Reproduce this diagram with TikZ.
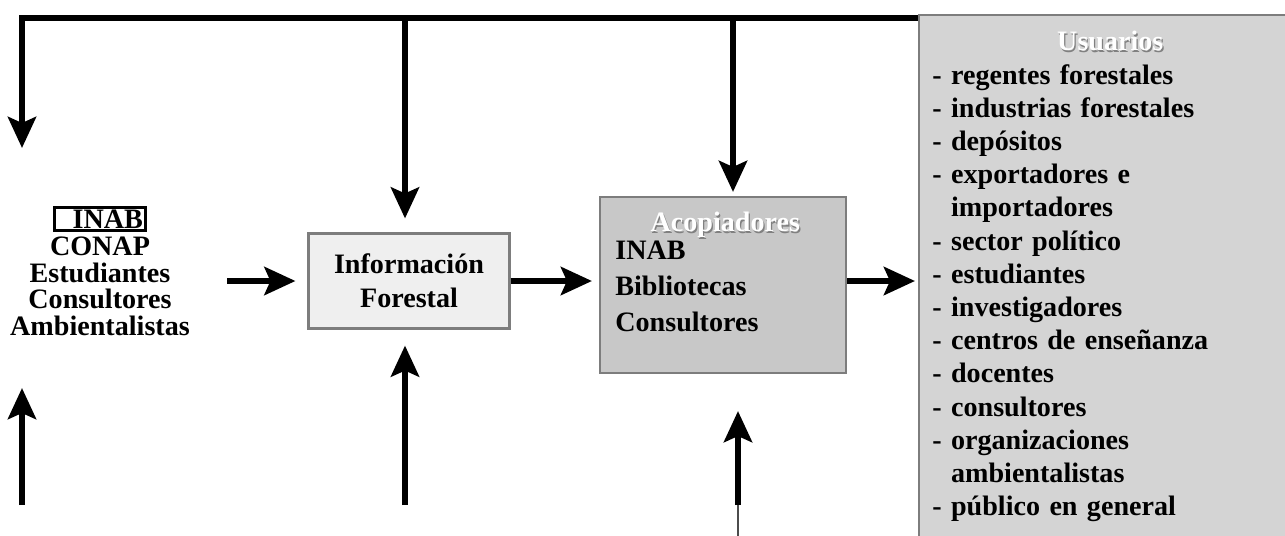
\documentclass[tikz,border=0pt]{standalone}
\usepackage{fontspec}
\setmainfont{Liberation Serif}
\usepackage{xcolor}
\usetikzlibrary{arrows.meta,positioning}

\definecolor{grisclaro}{RGB}{239,239,239}
\definecolor{grismedio}{RGB}{200,200,200}
\definecolor{grisfondo}{RGB}{212,212,212}
\definecolor{grisborde}{RGB}{125,125,125}

% white title with a grey edge
\newcommand{\relieve}[1]{\rlap{\textcolor{black!50}{\kern0.7pt\raisebox{-0.7pt}{#1}}}\textcolor{white}{#1}}

\tikzset{
  caja/.style={draw=grisborde, line width=1.2pt, inner sep=0pt},
  flecha/.style={line width=3.6pt, -{Stealth[length=0.62cm,width=0.56cm,inset=0.12cm]}},
  texto/.style={font=\bfseries\fontsize{16}{15.3}\selectfont, inner sep=0pt}
}

\begin{document}
\begin{tikzpicture}[x=0.02cm,y=-0.02cm]
\useasboundingbox (0,0) rectangle (1285,535);

% Usuarios box, runs off the page to the right and below
\node[caja, fill=grisfondo, anchor=north west, minimum width=8cm, minimum height=11cm] (usuarios) at (918,14) {};
\node[texto, font=\bfseries\fontsize{16}{18.9}\selectfont, anchor=north west, text width=7.12cm, align=left] (lista) at (932,31)
  {\makebox[\linewidth]{\relieve{Usuarios}}\\
   - regentes forestales\\
   - industrias forestales\\
   - depósitos\\
   - exportadores e\\
   \phantom{- }importadores\\
   - sector político\\
   - estudiantes\\
   - investigadores\\
   - centros de enseñanza\\
   - docentes\\
   - consultores\\
   - organizaciones\\
   \phantom{- }ambientalistas\\
   - público en general};

% sources on the left
\node[texto, align=center] (fuentes) at (100,271)
  {{\setlength{\fboxrule}{1.6pt}\setlength{\fboxsep}{0.6pt}\fbox{\hspace{0.55em}INAB}}\\
   CONAP\\ Estudiantes\\ Consultores\\ Ambientalistas};

% Informacion Forestal
\node[caja, fill=grisclaro, minimum width=4.02cm, minimum height=1.9cm] (info) at (409,281) {};
\node[texto, font=\bfseries\fontsize{16}{19.3}\selectfont, align=center] (infotxt) at (info.center) {Información\\ Forestal};

% Acopiadores
\node[caja, fill=grismedio, minimum width=4.92cm, minimum height=3.52cm] (acop) at (723,285) {};
\node[texto, font=\bfseries\fontsize{16}{16}\selectfont, anchor=north west, text width=4.4cm, align=left] (acoptxt) at (615,212)
  {\makebox[\linewidth]{\relieve{Acopiadores}}\\
   INAB\\[4.4pt] Bibliotecas\\[4.4pt] Consultores};

% free ends of the vertical arrows
\coordinate (esquina) at (22,18);
\coordinate (izqfin) at (22,148);
\coordinate (ramal1) at (405,18);
\coordinate (ramal2) at (733,18);
\coordinate (abajo1) at (22,505);
\coordinate (izqarr) at (22,388);
\coordinate (abajo2) at (405,505);
\coordinate (abajo3) at (738,505);
\coordinate (borde) at (738,540);

% feedback line along the top
\draw[flecha] (usuarios.west |- esquina) -- (esquina) -- (izqfin);
\draw[flecha, shorten >=0.28cm] (ramal1) -- (ramal1 |- info.north);
\draw[flecha, shorten >=0.08cm] (ramal2) -- (ramal2 |- acop.north);

% arrows from below
\draw[flecha] (abajo1) -- (izqarr);
\draw[flecha, shorten >=0.32cm] (abajo2) -- (abajo2 |- info.south);
\draw[flecha, shorten >=0.74cm] (abajo3) -- (abajo3 |- acop.south);
\draw[line width=0.9pt, black!70] (abajo3) -- (borde);

% main flow
\draw[flecha, shorten <=0.74cm, shorten >=0.24cm] (fuentes.east |- info.west) -- (info.west);
\draw[flecha, shorten >=0.14cm] (info.east) -- (info.east -| acop.west);
\draw[flecha, shorten >=0.06cm] (info.east -| acop.east) -- (info.east -| usuarios.west);

\end{tikzpicture}
\end{document}
